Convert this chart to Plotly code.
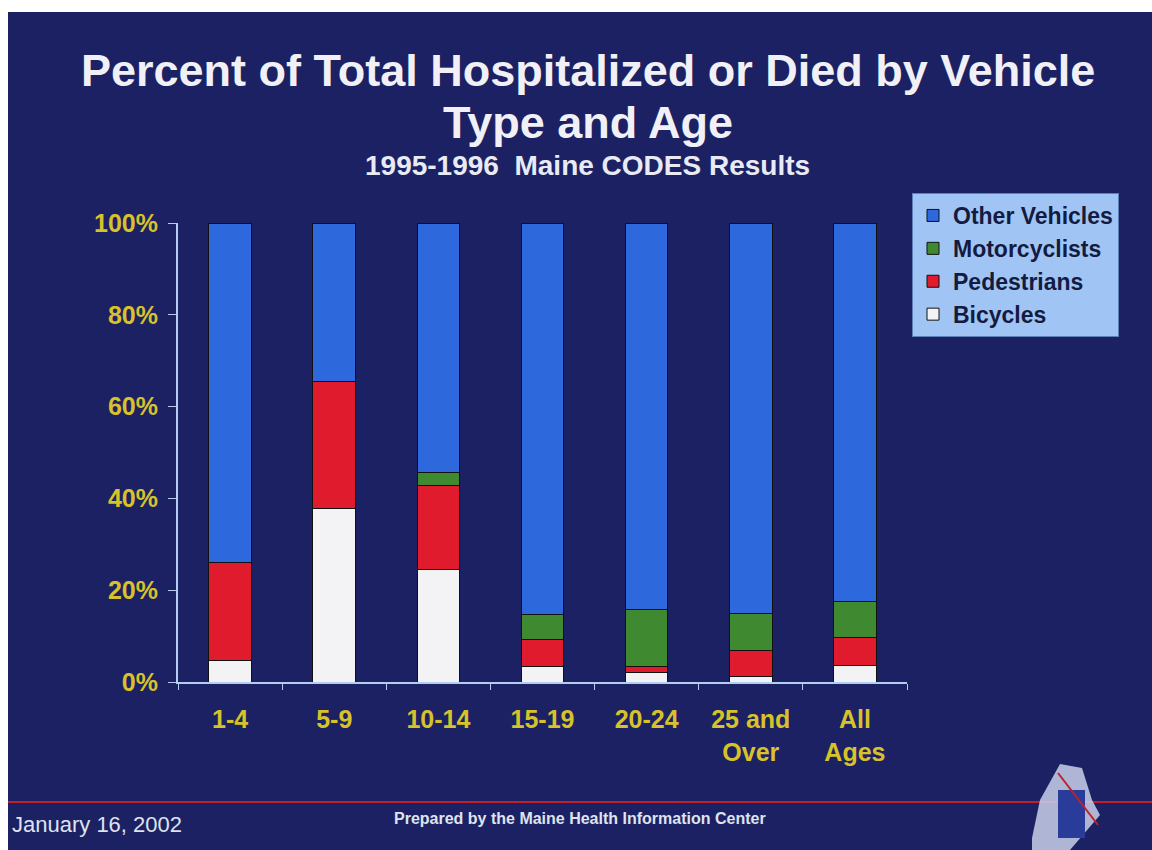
import plotly.graph_objects as go

categories = ["1-4", "5-9", "10-14", "15-19", "20-24", "25 and<br>Over", "All<br>Ages"]
bicycles = [4.6, 37.9, 24.6, 3.3, 2.0, 1.1, 3.7]
pedestrians = [21.5, 27.5, 18.3, 5.9, 1.3, 5.7, 6.1]
motorcyclists = [0.0, 0.0, 2.85, 5.4, 12.6, 8.2, 7.8]
other_vehicles = [73.9, 34.6, 54.25, 85.4, 84.1, 85.0, 82.4]
y_ticks = [0, 20, 40, 60, 80, 100]
y_tick_labels = ["0%", "20%", "40%", "60%", "80%", "100%"]

BG = "#1c2164"
FONT = "Liberation Sans, Arial, sans-serif"
YELLOW = "#d8c22a"

# page-pixel -> paper coordinate helpers (plot area spans page x 178..907, y 223..682)
def px(x):
    return (x - 178) / 729

def py(y):
    return (682 - y) / 459

fig = go.Figure()
series = [
    ("Bicycles", bicycles, "#f3f3f6"),
    ("Pedestrians", pedestrians, "#e11b2e"),
    ("Motorcyclists", motorcyclists, "#3f8a30"),
    ("Other Vehicles", other_vehicles, "#2d68dc"),
]
for name, vals, col in series:
    fig.add_trace(go.Bar(
        x=categories, y=vals, name=name,
        marker=dict(color=col, line=dict(color="#111111", width=1)),
    ))

fig.update_layout(
    width=1152, height=850,
    barmode="stack", bargap=0.59,
    paper_bgcolor=BG, plot_bgcolor=BG,
    margin=dict(l=178, r=245, t=223, b=168),
    font=dict(family=FONT, color="white"),
    showlegend=True,
    legend=dict(
        x=px(912), y=py(193), xanchor="left", yanchor="top",
        bgcolor="#a0c5f5", bordercolor="#5f7fb8", borderwidth=1,
        font=dict(family=FONT, size=23, color="#141a40", weight="bold"),
        traceorder="reversed", itemwidth=30,
    ),
    xaxis=dict(
        showgrid=False, showline=True, linecolor="#b5ccf2", linewidth=2,
        ticks="outside", tickson="boundaries", ticklen=6, tickcolor="#b5ccf2",
        tickfont=dict(family=FONT, size=25, color=YELLOW, weight="bold"),
        ticklabelstandoff=14,
        range=[-0.5, 6.5],
    ),
    yaxis=dict(
        range=[0, 100], tickvals=y_ticks, ticktext=y_tick_labels,
        showgrid=False, zeroline=False, showline=True, linecolor="#b5ccf2", linewidth=2,
        ticks="outside", ticklen=8, tickcolor="#b5ccf2",
        tickfont=dict(family=FONT, size=25, color=YELLOW, weight="bold"),
        ticklabelstandoff=5,
    ),
)

fig.add_annotation(
    text="Percent of Total Hospitalized or Died by Vehicle",
    xref="paper", yref="paper", x=px(588), y=py(70),
    xanchor="center", yanchor="middle", showarrow=False,
    font=dict(family=FONT, size=45, color="#f0f0f6", weight="bold"),
)
fig.add_annotation(
    text="Type and Age",
    xref="paper", yref="paper", x=px(588), y=py(123),
    xanchor="center", yanchor="middle", showarrow=False,
    font=dict(family=FONT, size=45, color="#f0f0f6", weight="bold"),
)
fig.add_annotation(
    text="1995-1996  Maine CODES Results",
    xref="paper", yref="paper", x=px(587), y=py(165),
    xanchor="center", yanchor="middle", showarrow=False,
    font=dict(family=FONT, size=28, color="#e8eaf4", weight="bold"),
)
fig.add_annotation(
    text="January 16, 2002",
    xref="paper", yref="paper", x=px(10), y=py(824),
    xanchor="left", yanchor="middle", showarrow=False,
    font=dict(family=FONT, size=22, color="#dfe3f0"),
)
fig.add_annotation(
    text="Prepared by the Maine Health Information Center",
    xref="paper", yref="paper", x=px(580), y=py(818),
    xanchor="center", yanchor="middle", showarrow=False,
    font=dict(family=FONT, size=16, color="#dfe3f0", weight="bold"),
)
# footer rule
fig.add_shape(
    type="line", xref="paper", yref="paper",
    x0=px(0), x1=px(1152), y0=py(802), y1=py(802),
    line=dict(color="#c0202a", width=2),
)
# white scan margins at the top and left
fig.add_shape(
    type="rect", xref="paper", yref="paper",
    x0=px(0), x1=px(1152), y0=py(0), y1=py(12),
    fillcolor="white", line=dict(width=0), layer="above",
)
fig.add_shape(
    type="rect", xref="paper", yref="paper",
    x0=px(0), x1=px(8), y0=py(0), y1=py(850),
    fillcolor="white", line=dict(width=0), layer="above",
)
# small logo in the lower right corner (approximate)
fig.add_shape(
    type="path", xref="paper", yref="paper",
    path=(f"M {px(1032)},{py(838)} L {px(1040)},{py(800)} L {px(1060)},{py(764)} "
          f"L {px(1082)},{py(768)} L {px(1092)},{py(800)} L {px(1100)},{py(815)} "
          f"L {px(1070)},{py(850)} L {px(1032)},{py(850)} Z"),
    fillcolor="#c9cfe8", line=dict(width=0), opacity=0.85,
)
fig.add_shape(
    type="rect", xref="paper", yref="paper",
    x0=px(1058), x1=px(1085), y0=py(838), y1=py(790),
    fillcolor="#2a3c9a", line=dict(width=0),
)
fig.add_shape(
    type="line", xref="paper", yref="paper",
    x0=px(1058), x1=px(1098), y0=py(773), y1=py(825),
    line=dict(color="#c0202a", width=2),
)

fig.write_html(
    "out.html",
    config={"displayModeBar": False},
    post_script="document.body.style.margin='0';",
)
